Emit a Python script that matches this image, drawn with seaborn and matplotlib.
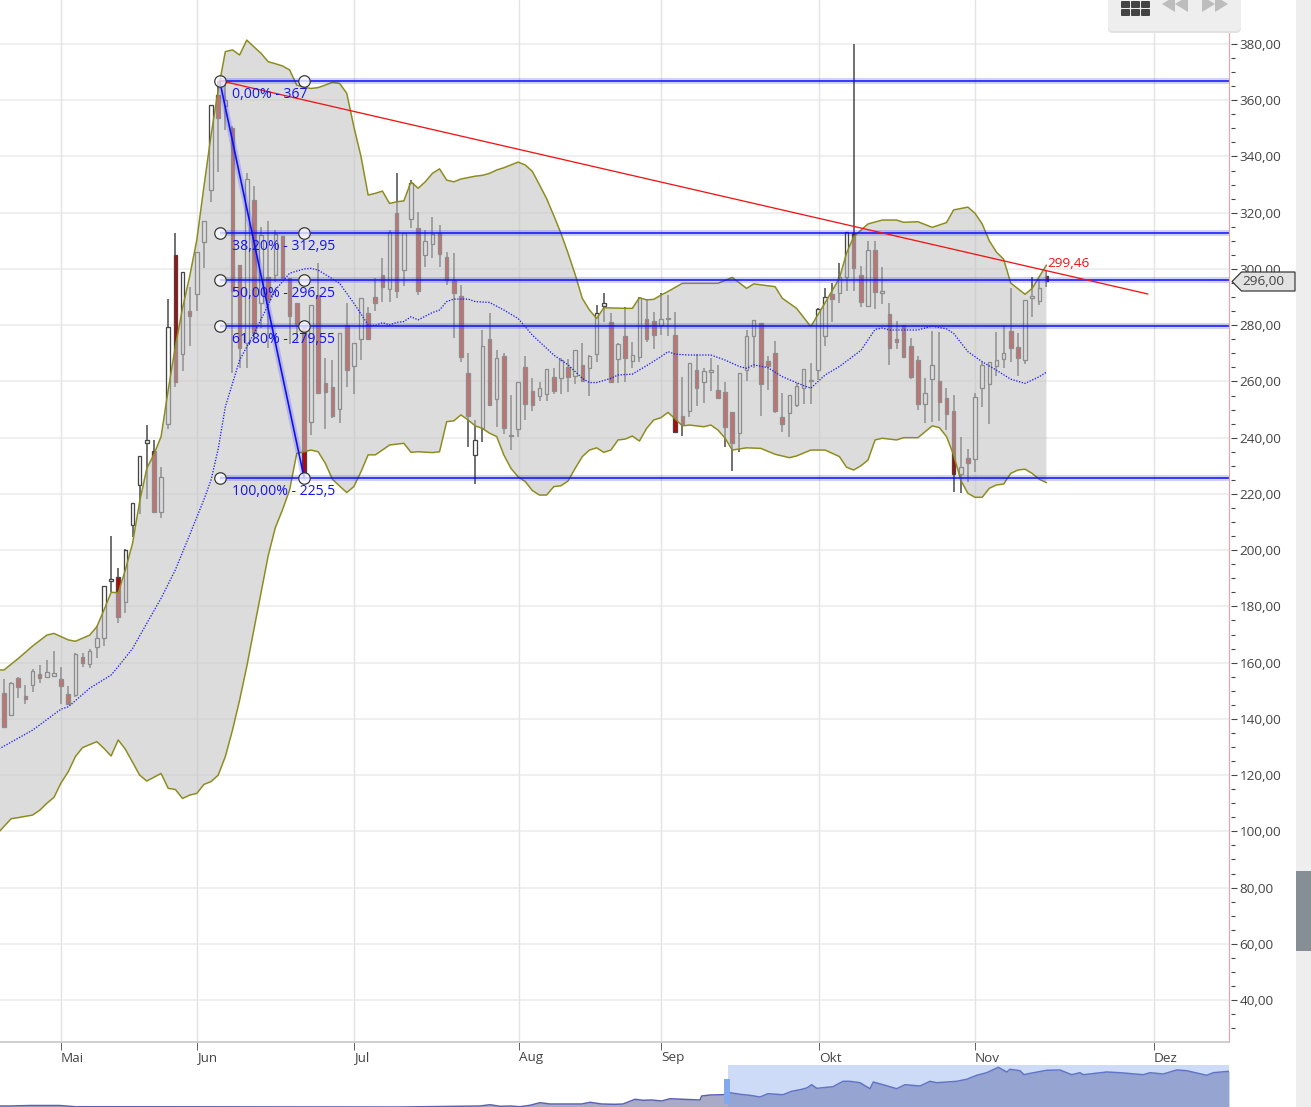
import numpy as np
import matplotlib
matplotlib.use('Agg')
import matplotlib.pyplot as plt
from matplotlib.patches import FancyBboxPatch, Polygon, Rectangle
from matplotlib.ticker import FixedLocator, FixedFormatter
import seaborn as sns

# candles, one per trading day
candle_high = [154.1,153.2,155,152,157.6,159.2,161,164.1,158.3,151.7,
    163.3,163.3,165,173,187.3,205.1,193.6,200.3,216.9,233.5,
    244.5,239.2,229.5,289.2,312.9,298.8,293.7,305.9,316.9,358.3,
    367,366,350.8,301.4,334,329.5,314.8,317,313.9,311.6,
    296.9,288,280,287.2,302.2,268.2,267.6,277.1,288,273.8,
    289.8,286.4,296.7,303.8,313.9,334,312.7,331.6,320.4,313.9,
    318.6,315.6,306.2,305.6,294.3,270.2,246.3,278.3,284.5,271.2,
    270,255.2,259.7,269,261.1,259.7,264.4,264.7,268.2,267.9,
    271.2,273.6,269.4,287.2,291.3,284.2,273.8,286.6,274.2,289.9,
    289.2,284.8,291.6,290.7,284.6,261.5,266.4,269.8,264.7,268.2,
    265.9,259.7,249,263.1,278.3,281.9,280.9,269,274.4,256,
    255.2,259.3,264.4,266.7,286,293.1,294.9,302.2,313.3,380,
    301.2,310,310,300.6,287.8,281.5,280,275.3,269,261.4,
    278,277.5,257.6,255.2,240.2,235.9,256,267,267,277.5,
    280,293.1,277.1,289,297,296.3,299.6]
candle_top = [149.1,152.6,154.4,148.1,157,156.1,156.5,156.4,154.1,148.9,
    163.1,161.9,164.1,168.9,187.3,189.9,190.4,200.1,216.9,233.5,
    239.2,235.3,225.9,279.2,305,298.8,284.9,305.9,316.9,358.3,
    361.9,360,350,301.4,332,324.5,312.1,297,312.3,311.6,
    296.9,288,279.5,287.2,290.8,259.3,257.9,277.1,280.1,273.8,
    289.8,284.2,289.9,297.9,313.3,320,312.7,330.5,314.7,310,
    312.5,312.7,304.1,296.1,290.4,263.1,239.2,272.6,275.2,268.2,
    269,241,259.7,265,256.5,257.8,264.4,261.5,267.6,265,
    271.2,265.9,269,284.5,288,281,273.2,276.2,269.4,289.8,
    282.3,281.4,282.3,282.5,276.5,247.7,266.4,264.1,263.7,264.1,
    257,256.4,249,263.1,276.2,281.9,280.9,267.3,270.2,247.2,
    255.2,258.4,264.4,260.5,285.7,289.9,291.1,297,313,312.7,
    297.9,306.8,306.8,292.2,284,275.2,280,272.6,267.6,256,
    265.9,260.2,254,249.5,229.7,232.7,254.4,265.9,267,267.6,
    270.2,277.9,272.1,289,290.4,293.1,297.5]
candle_bottom = [137.2,141.3,151.5,147.1,151.9,154.7,154.9,155.4,151.6,145.3,
    148.6,160,159.4,165.7,168.9,188.9,176.4,181.7,208.8,223,
    238.2,213.7,213.7,244.8,259.9,269.6,283.4,291,309.7,328,
    353.7,358,292,272,273.6,277.1,288,289,297.9,296.9,
    283.3,280.4,227.6,245.7,255.8,256.4,247.7,250.1,264.1,265.6,
    275,275.1,288,293.7,292.8,292,299.6,317.8,292.3,305,
    308.9,305.3,296.1,291.6,268.8,247.8,233.7,243.3,251.5,253.6,
    243.4,240.7,243.1,252,251.5,255,255.5,256.7,261.4,261.7,
    262,260.2,264.9,269.7,286.8,259.9,268,268.2,267.4,268.8,
    275,276.6,280.1,282.1,242.2,244.8,249.6,257.8,259.9,263.5,
    254,243.9,238,241.8,264.1,276.2,259.1,265.5,249.5,244.9,
    248.9,251.6,257.8,260,264.1,276.3,289.3,291.6,297,300.2,
    288.4,287,291.9,291.6,272,274,268.8,261.5,251.9,251.9,
    260.8,252.8,248.6,227.1,227.1,231.1,232.3,257.8,259,265.6,
    267.9,271.8,268.2,267.6,289.8,288.6,295.7]
candle_low = [137.2,141.3,147.3,145.3,149.7,152.6,154.4,155,145.2,144.9,
    147.9,158.6,158,161.5,166,185,174,177.5,204.8,212.9,
    218.1,213.7,211.3,243,258.2,263.8,272.7,285.2,300.2,323.9,
    334.6,349.5,262.9,264.7,264.7,274.8,279,271.8,295.5,296.9,
    273.3,273.5,226,241,255.8,243,246.9,245.1,258.2,255.5,
    267.6,275.1,285.2,288.4,288.4,289.6,294.1,314.5,290.8,300.8,
    303.8,300.8,294.3,275.6,267,236.8,223.4,238.3,251.5,243.7,
    241.3,235.6,240.4,246.3,249.6,253,253.2,255.5,255.5,256.4,
    259.1,259.9,254.9,267,281.3,259.9,259.3,259.9,264.7,267,
    274.2,271.4,276.5,276.3,242.2,240.6,247.5,251.3,252.2,256.7,
    253.7,236.8,228,235,260.2,264.7,247.8,257,248.9,242.2,
    240.4,250.8,251.9,251.9,260.5,272.6,281.3,287.8,292.3,292.3,
    286.6,287,285.7,287.5,265.9,271.4,268.5,261,249.9,245.1,
    245.7,246.1,242.7,220.8,220.2,224.4,227.9,251,244.9,262,
    264.7,267,262,266.2,283,287.2,293.5]
candle_dir = ("duddu duudd uduuu uduuu uduud uduuu duddu dudud dddud ddudu "
              "udddu duudu udddd duudu duudd uudud uduuu duduu dduud duduu "
              "ddduu udddd uuuuu uduud dudud ddddu udddu duuuu uddu uud").replace(' ', '')

# bollinger bands, read at their visible corners (trading day, value)
upper_day = [-1,0,2,4,6,7,9,10,12,13,14,15,16,17,18,19,20,21,22,23,24,25,26,27,28,29,30,
    31,32,33,34,35,36,37,38,39,40,41,42,43,44,45,46,47,48,49,50,51,52,53,54,55,56,57,58,59,60,61,62,
    63,64,65,66,67,68,69,70,71,72,73,74,75,76,77,78,79,80,81,82,83,84,87,88,89,90,91,92,93,95,100,102,
    104,105,108,109,111,113,115,117,118,119,121,123,125,126,128,130,132,133,135,136,137,138,139,140,141,143,144,145,146]
upper_band = [157.4,157.4,161.5,165.9,169.8,170.4,168.1,167.6,169.8,172.8,178.7,185,184.9,193,202.4,217.3,229.1,234.1,240.4,257,272.4,286,297.3,310.3,329.3,347.6,363.7,
    377.3,377.9,376.1,381.4,379,376.7,373.7,373,372.2,370.8,365.4,364.6,364.2,364.5,365.4,366.4,366,362.5,350.6,340,326.3,326.9,327.7,323.3,323.9,324.2,331,328.7,331,334,335.6,331.6,
    331,332,332.5,333,333.3,334,335.2,336,337,338,337,334.7,329.9,325,319,312.7,305.6,298,289.5,285.4,282.4,286.2,286,286,289.8,289,289.2,290.7,292,294.9,294.9,297,
    293.1,294.7,293.7,289.6,286,279.5,288,296.7,305.6,311.5,316,317.4,317.4,316.6,316.8,314.8,316.5,321,322,319.8,316,310,306,303.5,295,291,293.1,297.3,301.4]
lower_day = [-1,1,2,4,5,6,7,8,9,10,11,13,14,15,16,17,19,20,22,23,24,25,26,27,28,29,30,31,32,33,34,36,37,38,39,40,41,
    42,43,44,45,46,47,48,49,50,51,52,53,54,56,57,58,60,61,62,63,64,65,66,67,68,69,70,71,72,73,74,75,76,77,78,79,80,81,82,83,84,85,
    86,87,88,89,90,91,92,93,94,95,96,98,99,100,101,102,104,106,108,110,111,113,115,117,118,119,120,121,122,123,125,126,128,130,
    131,132,133,134,135,136,137,138,139,140,141,142,143,144,145,146]
lower_band = [99,104.5,104.9,105.8,107.5,110,112.1,117.3,121.2,126.6,129.8,131.9,129.5,126.8,132.5,129.2,120,117.9,120.6,115.3,114.9,111.7,112.9,113.5,116.7,117.7,120,126.6,136,146.7,158.6,185,198,208,214.3,221.4,234.4,
    235,235.6,235,230.9,225.2,222.8,220.5,222.6,227.9,233.9,233.9,235.6,237.4,238,234.8,235,234.7,235,245.7,246,248.1,246.3,244.2,243.3,241.6,240.4,233.9,229.1,226.1,224.4,221.2,219.6,219.6,222.6,222.9,224.6,229.1,233.3,235.6,236.4,234.8,235.6,
    239.2,239.5,240.6,238.8,243.3,246.3,247.1,249,246.7,244.2,244.5,243.9,244.5,242.7,239.8,235.6,236.4,236.2,234.1,232.9,233.5,235.6,235.6,233.3,229.5,228.5,230,232,239.2,239.8,239.2,240,240,244.2,
    243.6,240.4,233.9,224.9,220.2,218.8,218.8,222,223.2,223.5,227.3,228.5,228.8,227.3,225.2,224]
mid_day = [-1,4,8,9,12,15,16,18,20,22,24,26,28,29,30,31,33,35,37,38,40,42,43,44,47,49,51,52,53,54,55,56,57,58,60,61,62,63,65,66,68,70,72,74,77,79,81,82,83,85,86,88,90,92,93,94,96,99,101,103,104,105,107,109,112,113,115,117,120,122,123,124,128,130,132,133,135,137,139,141,143,145,146]
mid_band = [128.9,136,143.5,144.3,150.9,155.6,158.6,165,174,182.9,193,205.4,218,225,236,251,267.6,277,287.2,292.5,298.5,300,300.2,299.6,294.9,287.8,280.1,279.9,280.9,280.1,281,281.3,283,281.9,284.5,285.4,288.4,289.3,289.3,288.4,288.1,285.4,282.4,276.5,269.4,265.9,261.1,259.6,259.6,261.1,262.3,262.6,265.6,268.8,270.6,269.7,269.4,269.4,267.6,265.3,264.7,265.9,264.9,261.7,258.5,257.6,262.3,265.3,271,278.5,279,278.3,278.3,279.7,278.7,277.1,270.6,267,264,260.8,259.3,261.7,263.3]

# retracement drawing
fib_levels = [367, 312.95, 296.25, 279.55, 225.5]
fib_labels = ['0,00% - 367', '38,20% - 312,95', '50,00% - 296,25', '61,80% - 279,55', '100,00% - 225,5']
fib_start_day = 30.2
fib_end_day = 42.05
trend_day = [30.2, 160.2]
trend_value = [367, 291.1]
last_trend = '299,46'
last_price = '296,00'

y_major = [40,60,80,100,120,140,160,180,200,220,240,260,280,300,320,340,360,380]
y_minor = [30,35,45,50,55,65,70,75,85,90,95,105,110,115,125,130,135,145,150,155,165,170,175,185,190,195,
           205,210,215,225,230,235,245,250,255,265,270,275,285,290,295,305,310,315,325,330,335,345,350,355,365,370,375]
month_days = [8, 27, 49, 72.1, 92, 114.1, 136, 161]
month_names = ['Mai', 'Jun', 'Jul', 'Aug', 'Sep', 'Okt', 'Nov', 'Dez']

# overview strip at the bottom
nav_pos = [0,10,30,60,75,400,480,490,500,510,520,530,540,550,560,581.7,590,601.7,615,623,635,643,651.7,661.7,670,676.7,700,701.7,
    710,723,730,740,750,760,768,783,791.7,800,806.7,811.7,816.7,823,833,843,850,860,870,873.3,883,896.7,905,920,930,936.7,
    956.7,966.7,976.7,986.7,998.3,1006.7,1010,1020,1024,1028.3,1046.7,1060,1071.7,1080,1083.3,1106.7,1120,1143.3,1150,1163.3,
    1176.7,1186.7,1206.7,1213.3,1229]
nav_value = [1,1,1.5,1.5,0.3,0,1,2.3,0.7,1,0.3,1.7,4.3,3,3,3,4.7,3,2.7,3,7.7,6.7,7,6,8.3,8,7,11,
    12,12.3,14.3,12.7,11.7,10,13.3,12.3,15.7,17.3,19,22.3,18.7,19.3,20.3,25.7,25.7,24.3,18.3,25,22.3,18.3,22.3,21,25.7,24.3,
    25.7,27.7,31.7,34.3,39.7,35,37.7,36.3,32.3,33.3,36.7,37,32.3,34.3,32.3,35,34.3,32.3,34.3,33,
    37,36.3,31.7,34.3,35.7]

W, H = 1311, 1107
AX_R, AX_B = 1229, 1042
PX_PER_DAY = 7.14
PT = 0.72  # one pixel in points at dpi 100

sns.set_theme(style='white')
plt.rcParams['font.family'] = ['Open Sans', 'DejaVu Sans']

fig = plt.figure(figsize=(W / 100, H / 100), dpi=100, facecolor='white')
ax = fig.add_axes([0, (H - AX_B) / H, AX_R / W, AX_B / H])
ax.set_xlim(-4 / PX_PER_DAY, (AX_R - 4) / PX_PER_DAY)
ax.set_ylim(25.1, 395.65)

days = np.arange(len(candle_high))
is_down = np.array([c == 'd' for c in candle_dir])
top = np.array(candle_top)
bottom = np.array(candle_bottom)

# grid
ax.set_axisbelow(True)
for v in y_major:
    ax.axhline(v, color='#ececec', lw=1.6 * PT, zorder=1)
for d in month_days:
    ax.axvline(d, color='#e4e4e4', lw=1.4 * PT, zorder=1)

# candles go under the translucent band, so they wash out inside it
ax.vlines(days, candle_low, candle_high, color='#454545', lw=1.5 * PT, zorder=2)
ax.bar(days, top - bottom, bottom=bottom, width=0.5,
       color=np.where(is_down, '#c40000', '#ffffff'), edgecolor='#454545', linewidth=1.3 * PT, zorder=2.1)

band_x = upper_day + lower_day[::-1]
band_y = upper_band + lower_band[::-1]
ax.fill(band_x, band_y, color=(0.765, 0.765, 0.765, 0.58), lw=0, zorder=3)

sns.lineplot(x=upper_day, y=upper_band, ax=ax, color='#8c8c1e', lw=1.5 * PT, estimator=None, zorder=4)
sns.lineplot(x=lower_day, y=lower_band, ax=ax, color='#8c8c1e', lw=1.5 * PT, estimator=None, zorder=4)
sns.lineplot(x=mid_day, y=mid_band, ax=ax, color='#1c1cf0', lw=1.3 * PT, ls=(0, (1, 1.2)), estimator=None, zorder=4)

# retracement lines, each with a pale halo
x_end = ax.get_xlim()[1]
for lev, lab in zip(fib_levels, fib_labels):
    ax.plot([fib_start_day, x_end], [lev, lev], color='#2020ff', alpha=0.2, lw=6 * PT, solid_capstyle='butt', zorder=5)
    ax.plot([fib_start_day, x_end], [lev, lev], color='#0a0aff', lw=1.5 * PT, solid_capstyle='butt', zorder=5.1)
    ax.annotate(lab, xy=(31.93, lev), xytext=(0, -13.5 * PT), textcoords='offset points', color='#1414f0',
                fontsize=10.1, va='center', ha='left', zorder=8)
    ax.plot([fib_start_day, fib_end_day], [lev, lev], ls='none', marker='o', ms=11.5 * PT, mfc=(1, 1, 1, 0.75),
            mec='#333333', mew=1.2 * PT, zorder=7)
ax.plot([fib_start_day, fib_end_day], [fib_levels[0], fib_levels[-1]], color='#2020ff', alpha=0.2, lw=6 * PT, zorder=5)
ax.plot([fib_start_day, fib_end_day], [fib_levels[0], fib_levels[-1]], color='#0a0aff', lw=1.6 * PT, zorder=5.1)

sns.lineplot(x=trend_day, y=trend_value, ax=ax, color='#f01414', lw=1.3 * PT, estimator=None, zorder=6)
ax.text(146.1, 299.46, last_trend, color='#ee1111', fontsize=9.7, ha='left', va='bottom', zorder=8)

# axes furniture
for s in ['left', 'top', 'bottom']:
    ax.spines[s].set_visible(False)
ax.spines['right'].set_position(('outward', 2 * PT))
ax.spines['right'].set_color('none')
ax.axvline(x_end, color='#e2a8a8', lw=1.2 * PT, clip_on=False, zorder=6)
ax.axhline(25.1, color='#cfcfcf', lw=2 * PT, clip_on=False, zorder=6)

ax.yaxis.tick_right()
ax.yaxis.set_major_locator(FixedLocator(y_major))
ax.yaxis.set_major_formatter(FixedFormatter([f'{v:.2f}'.replace('.', ',') for v in y_major]))
ax.yaxis.set_minor_locator(FixedLocator(y_minor))
ax.tick_params(axis='y', which='major', right=True, length=6 * PT, width=1.1 * PT, color='#444444',
               labelcolor='#444444', labelsize=9.7, pad=2.4 * PT)
ax.tick_params(axis='y', which='minor', right=True, length=4 * PT, width=1.1 * PT, color='#444444')
ax.xaxis.set_major_locator(FixedLocator(month_days))
ax.xaxis.set_major_formatter(FixedFormatter(month_names))
ax.tick_params(axis='x', bottom=True, length=8 * PT, width=1 * PT, color='#666666', labelcolor='#444444',
               labelsize=9.7, pad=1.5 * PT)
for lab in ax.get_xticklabels():
    lab.set_ha('left')
ax.set_xlabel('')
ax.set_ylabel('')

# overview strip
nav = fig.add_axes([0, 0, AX_R / W, 42 / H])
nav.set_xlim(0, AX_R)
nav.set_ylim(0, 42)
nav.fill_between(nav_pos, 0, nav_value, color='#a9aac6', lw=0, zorder=2)
sns.lineplot(x=nav_pos, y=nav_value, ax=nav, color='#5a60b4', lw=1.5 * PT, estimator=None, zorder=3)
nav.axvspan(728, AX_R, color=(112 / 255, 154 / 255, 232 / 255, 0.35), lw=0, zorder=4)
nav.set_xlabel('')
nav.set_ylabel('')
nav.axis('off')

# window furniture in pixel coordinates
over = fig.add_axes([0, 0, 1, 1], zorder=10)
over.set_xlim(0, W)
over.set_ylim(H, 0)
over.axis('off')
over.patch.set_alpha(0)

over.add_patch(Rectangle((724, 1079), 6, 25, color='#82a8ee', lw=0))
over.add_patch(Rectangle((1296, 0), 15, H, color='#eeeeee', lw=0))
over.add_patch(Rectangle((1296, 871), 15, 80, color='#868e96', lw=0))

# price tag on the axis
over.add_patch(Polygon([(1232, 281.5), (1241.5, 272), (1295, 272), (1295, 291), (1241.5, 291)], closed=True,
                       fc='#e2e2e2', ec='#333333', lw=1.2 * PT))
over.text(1263.5, 281.5, last_price, color='#444444', fontsize=9.7, ha='center', va='center')

# toolbar
for off, col in [(2, '#e2e2e2'), (0, '#eeeeee')]:
    over.add_patch(FancyBboxPatch((1113, -10), 123, 36 + off, boxstyle='round,pad=5', fc=col, ec='none'))
for col_x in [1121, 1131, 1141]:
    for row_y in [1, 9]:
        over.add_patch(FancyBboxPatch((col_x + 1, row_y + 1), 7, 5, boxstyle='round,pad=1', fc='#444444', ec='none'))
for tip, base in [(1162, 1175), (1175, 1188), (1215, 1202), (1228, 1215)]:
    over.add_patch(Polygon([(tip, 4), (base, -4), (base, 12)], closed=True, fc='#bdbdbd', ec='none'))

fig.savefig('out.png', dpi=100)
